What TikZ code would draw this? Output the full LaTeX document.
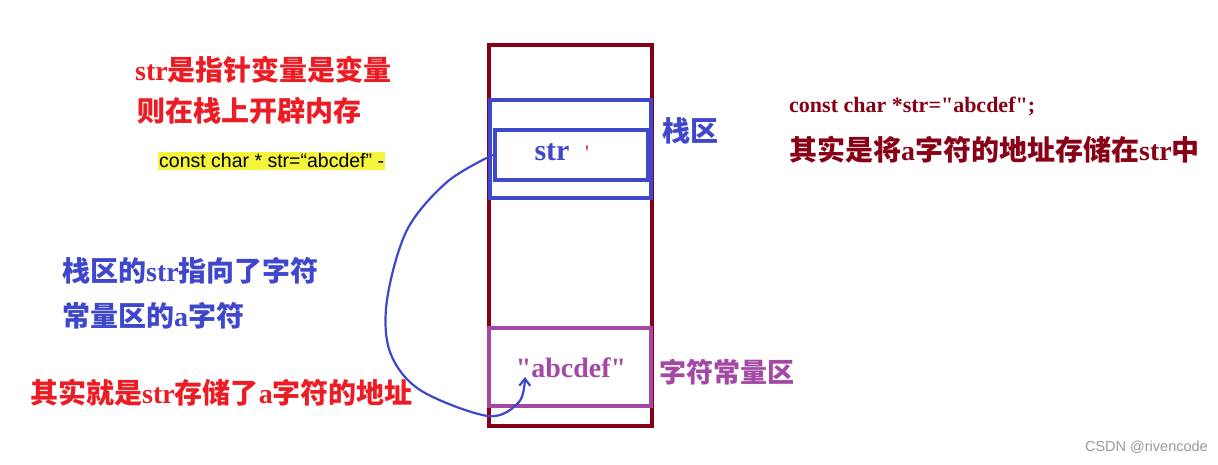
\documentclass[tikz,border=0pt]{standalone}
\usepackage{fontspec}
\setmainfont{Liberation Serif}[Ligatures=TeXOff]
\setsansfont{Liberation Sans}
\newfontfamily\cjk{Noto Sans CJK SC}
\usetikzlibrary{arrows.meta}
\definecolor{dred}{HTML}{880015}
\definecolor{pblue}{HTML}{3F48CC}
\definecolor{ppurple}{HTML}{A349A4}
\definecolor{pred}{HTML}{ED1C24}
\definecolor{hyellow}{RGB}{245,245,60}
\newcommand{\zhtext}[1]{{\cjk\bfseries #1}}
\tikzset{
  lbl/.style={anchor=west, inner sep=0pt, font=\fontsize{28}{32}\selectfont\bfseries},
  box/.style={line width=4pt},
}
\begin{document}
\begin{tikzpicture}[x=1pt,y=-1pt]
\useasboundingbox[fill=white] (0,0) rectangle (1218,464);
% memory column
\draw[box, dred] (489,45) rectangle (652,426);
\draw[box, pblue] (490,100) rectangle (651,198);
\node[box, draw=pblue, minimum width=153pt, minimum height=50pt, inner sep=0pt] (strbox) at (571,155) {};
\node[inner sep=0pt, text=pblue, font=\fontsize{30}{32}\selectfont\bfseries] (strtxt) at (552,152) {str};
\node[inner sep=0pt, text=pred, font=\fontsize{22}{24}\selectfont] (tick) at (587,153) {'};
\node[box, draw=ppurple, minimum width=162pt, minimum height=78pt, inner sep=0pt] (constbox) at (570,367) {};
\node[inner sep=0pt, text=ppurple, font=\fontsize{28}{32}\selectfont\bfseries] (abc) at (571,368) {"abcdef"};
% labels beside column
\node[lbl, text=pblue] (stacklbl) at (662,131) {\zhtext{栈区}};
\node[lbl, text=ppurple, font=\fontsize{27}{32}\selectfont\bfseries] (constlbl) at (659,372) {\zhtext{字符常量区}};
% left texts
\node[lbl, text=pred] (l1) at (135,70) {str\zhtext{是指针变量是变量}};
\node[lbl, text=pred] (l2) at (137,111) {\zhtext{则在栈上开辟内存}};
\node[anchor=west, fill=hyellow, inner xsep=1pt, inner ysep=2pt, font=\sffamily\fontsize{19.5}{22}\selectfont] (code) at (158,161) {const char * str=“abcdef” -};
\node[lbl, text=pblue] (b1) at (62,271) {\zhtext{栈区的}str\zhtext{指向了字符}};
\node[lbl, text=pblue] (b2) at (62,316) {\zhtext{常量区的}a\zhtext{字符}};
\node[lbl, text=pred] (r1) at (30,393) {\zhtext{其实就是}str\zhtext{存储了}a\zhtext{字符的地址}};
% right texts
\node[lbl, text=dred, font=\fontsize{22}{26}\selectfont\bfseries] (d1) at (789,106) {const char *str="abcdef";};
\node[lbl, text=dred] (d2) at (789,150) {\zhtext{其实是将}a\zhtext{字符的地址存储在}str\zhtext{中}};
% watermark
\node[anchor=east, inner sep=0pt, text=gray!80, font=\sffamily\fontsize{14.5}{16}\selectfont] (wm) at (1208,447) {CSDN @rivencode};
% pointer arrow
\coordinate (tip) at (525,377);
\draw[pblue, line width=2.2pt, line cap=round, line join=round, -{Straight Barb[length=7pt,width=11pt]}]
  plot[smooth, tension=0.55] coordinates {(strbox.west) (447,182) (407,230) (387,300) (390,352) (420,390) (488,416) (519,402) (tip)};
\end{tikzpicture}
\end{document}
